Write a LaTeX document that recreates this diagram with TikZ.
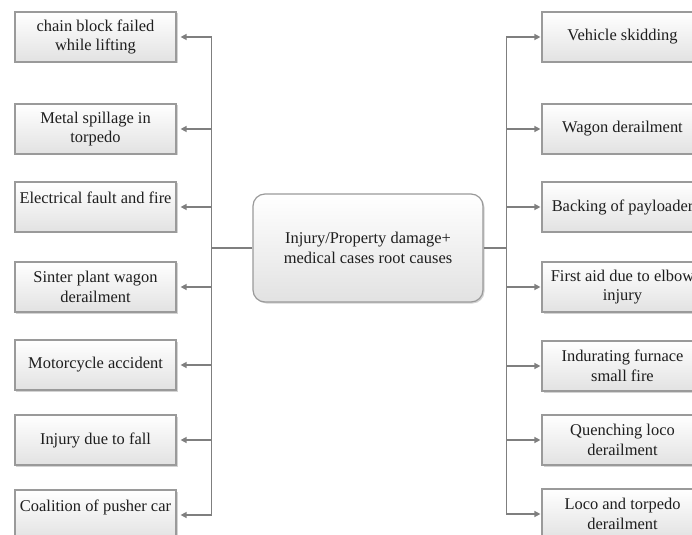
\documentclass[tikz,border=0pt]{standalone}
\usepackage{fontspec}
\setmainfont{Liberation Serif}
\usetikzlibrary{arrows.meta,shadows}
\definecolor{linegray}{HTML}{7F7F7F}
\definecolor{boxedge}{HTML}{9A9A9A}
\definecolor{boxfill}{HTML}{E2E2E2}
\definecolor{textdark}{HTML}{1E1E1E}
\begin{document}
\begin{tikzpicture}[x=1bp,y=-1bp,
  causebox/.style={draw=boxedge, line width=1.2bp, top color=white, bottom color=boxfill,
    minimum width=161bp, minimum height=50bp, inner sep=1bp, align=center,
    font=\fontsize{16.5}{19.5}\selectfont, text=textdark,
    drop shadow={shadow xshift=1.5bp, shadow yshift=-1.5bp, opacity=0.35}},
  hubbox/.style={causebox, rounded corners=12bp, minimum width=230bp, minimum height=108bp},
  trunk/.style={draw=linegray, line width=1.4bp},
  branchL/.style={trunk, -{Triangle[length=6bp,width=6bp]}, shorten >=4bp},
  branchR/.style={trunk, -{Triangle[length=6bp,width=6bp]}, shorten >=1bp}]
\clip (0,0) rectangle (692,535);

% central node
\node[hubbox] (hub) at (368,248) {Injury/Property damage+\\medical cases root causes};

% causes on the left
\node[causebox] (l1) at (95.5,37)  {chain block failed\\while lifting};
\node[causebox] (l2) at (95.5,129) {Metal spillage in\\torpedo};
\node[causebox] (l3) at (95.5,207) {Electrical fault and fire\\~};
\node[causebox] (l4) at (95.5,287) {Sinter plant wagon\\derailment};
\node[causebox] (l5) at (95.5,365) {Motorcycle accident};
\node[causebox] (l6) at (95.5,440) {Injury due to fall};
\node[causebox] (l7) at (95.5,515) {Coalition of pusher car\\~};

% causes on the right
\node[causebox] (r1) at (622.5,37)  {Vehicle skidding};
\node[causebox] (r2) at (622.5,129) {Wagon derailment};
\node[causebox] (r3) at (622.5,207) {Backing of payloader};
\node[causebox] (r4) at (622.5,287) {First aid due to elbow\\injury};
\node[causebox] (r5) at (622.5,366) {Indurating furnace\\small fire};
\node[causebox] (r6) at (622.5,440) {Quenching loco\\derailment};
\node[causebox] (r7) at (622.5,514) {Loco and torpedo\\derailment};

% trunks from the central node
\draw[trunk] (hub.west) -- ++(-41,0) coordinate (lj);
\draw[trunk] (hub.east) -- ++(23,0) coordinate (rj);

% branches
\foreach \n in {l1,l2,l3,l4,l5,l6,l7}
  \draw[branchL] (lj) |- (\n);
\foreach \n in {r1,r2,r3,r4,r5,r6,r7}
  \draw[branchR] (rj) |- (\n);
\end{tikzpicture}
\end{document}
